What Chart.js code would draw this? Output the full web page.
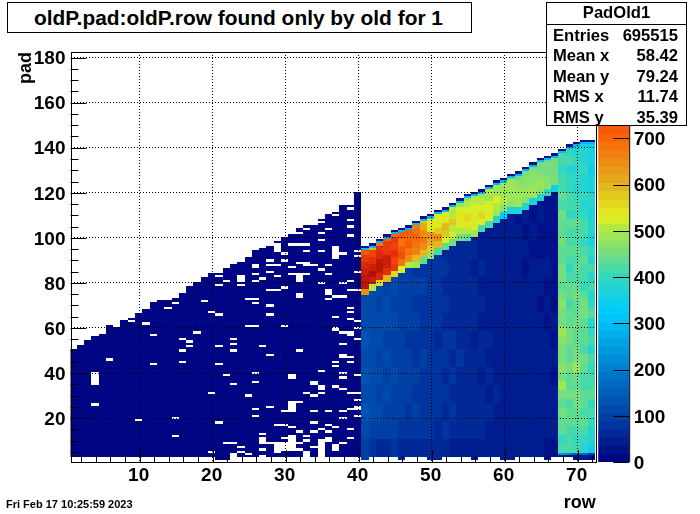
<!DOCTYPE html>
<html>
<head>
<meta charset="utf-8">
<title>PadOld1</title>
<script src="https://cdn.jsdelivr.net/npm/chart.js@4"></script>
<style>
  html, body { margin: 0; padding: 0; background: #fff; }
  #wrap { position: relative; width: 700px; height: 514px; overflow: hidden; font-family: "Liberation Sans", Arial, sans-serif; font-weight: bold; color: #000; }
  canvas { position: absolute; left: 0; top: 0; }
  .box { position: absolute; background: #fff; border: 1px solid #000; box-sizing: border-box; }
  #title { left: 7px; top: 2px; width: 465px; height: 31px; font-size: 20.9px; line-height: 30px; text-align: center; padding-right: 2px; }
  #stats { left: 546px; top: 2px; width: 141px; height: 124px; font-size: 16.6px; }
  #stats .head { text-align: center; height: 21px; line-height: 20px; border-bottom: 1px solid #000; }
  #stats .line { display: flex; justify-content: space-between; padding: 0 8px 0 6px; height: 20.4px; line-height: 21px; }
  #date { position: absolute; left: 6px; top: 498px; font-size: 11px; }
</style>
</head>
<body>
<div id="wrap">
  <canvas id="c" width="700" height="514"></canvas>
  <div class="box" id="title">oldP.pad:oldP.row found only by old for 1</div>
  <div class="box" id="stats">
    <div class="head">PadOld1</div>
    <div class="line"><span>Entries</span><span>695515</span></div>
    <div class="line"><span>Mean x</span><span>58.42</span></div>
    <div class="line"><span>Mean y</span><span>79.24</span></div>
    <div class="line"><span>RMS x</span><span>11.74</span></div>
    <div class="line"><span>RMS y</span><span>35.39</span></div>
  </div>
  <div id="date">Fri Feb 17 10:25:59 2023</div>
</div>
<script>
// top pad of each row, rows 1..72
const topPad = [50,52,54,56,57,61,60,63,64,66,68,71,72,72,74,75,78,80,82,84,84,86,88,89,91,94,95,96,98,100,102,104,105,105,108,110,111,114,114,120,
  96,97,99,101,103,104,105,107,109,110,112,113,115,117,119,120,121,123,125,126,128,129,131,133,135,136,137,139,141,142,143,143];

// rows that also fill pad 2 (pads below 3 are empty otherwise)
const lowRows = [21,22,41,46,50,51,56,60,61,66,70,71,72];

// rows 1..40, nearly empty navy level
const leftLevel = [12,14,12,10,12,10,8,10,8,8,6,8,6,8,6,6,8,6,8,6,8,6,6,6,4,6,4,6,4,4,4,6,4,4,4,4,4,4,4,6];

// empty cells in rows 1..40: row, first pad, last pad
const holes = [
  [39,113,113],[39,108,108],[39,105,105],[35,107,107],[36,104,104],[37,110,110],[33,104,104],[35,102,102],[39,101,101],
  [31,102,102],[32,102,102],[35,99,99],[31,97,97],[32,97,97],[33,97,97],[29,94,97],[37,91,96],[30,93,93],[33,94,94],[35,94,94],
  [38,93,93],[40,94,94],[40,92,92],[28,90,90],[30,90,90],[32,89,89],[33,89,89],[26,87,88],[28,88,88],[29,88,88],[33,88,88],[34,88,88],
  [31,87,87],[36,88,88],[35,86,86],[28,85,85],[31,84,84],[32,84,84],[33,84,84],[26,84,84],[36,84,84],[40,85,85],[21,83,83],[24,81,83],
  [27,82,82],[29,83,83],[32,81,83],[22,81,81],[26,81,81],[35,80,80],[39,81,81],[38,80,80],[21,79,79],[24,79,79],[30,78,78],[28,77,77],
  [29,77,77],[36,75,77],[39,77,77],[40,77,77],[32,74,75],[36,73,73],[37,74,74],[38,74,74],[25,73,73],[26,73,73],[19,72,72],[15,74,74],
  [15,71,71],[26,71,71],[14,69,69],[28,70,70],[39,69,69],[39,67,67],[20,67,67],[21,66,66],[28,66,66],[37,65,65],[39,64,64],[9,63,63],
  [11,62,62],[40,63,63],[25,61,61],[26,61,61],[30,61,61],[40,60,60],[37,59,60],[38,58,58],[39,57,58],[18,58,58],[12,57,57],[16,55,55],
  [17,54,54],[17,52,52],[21,52,52],[23,55,55],[23,53,53],[23,50,50],[27,52,52],[38,53,53],[16,50,50],[32,50,50],[40,55,55],[28,48,48],
  [38,47,48],[39,47,47],[6,46,46],[37,45,45],[39,45,45],[16,45,45],[12,44,44],[21,44,44],[37,43,43],[35,41,41],[26,40,40],[4,35,40],
  [38,40,40],[38,38,38],[22,39,39],[40,39,39],[31,38,39],[26,36,36],[23,35,35],[34,35,36],[35,33,34],[37,34,34],[38,33,33],[33,31,31],
  [35,31,31],[34,30,30],[39,31,31],[40,31,31],[20,31,31],[25,30,30],[40,28,28],[31,23,27],[32,27,27],[4,26,26],[28,25,25],[26,24,24],
  [30,23,23],[34,23,23],[36,23,23],[38,23,23],[39,24,24],[40,24,25],[26,21,21],[10,19,19],[15,20,20],[38,20,20],[40,21,21],[21,18,18],
  [34,18,18],[36,17,17],[29,17,17],[30,17,17],[37,16,16],[31,16,16],[35,15,15],[39,15,15],[32,14,14],[34,14,14],[36,14,14],[27,13,13],
  [33,12,12],[15,12,12],[27,9,11],[28,9,9],[30,11,11],[31,6,12],[36,10,11],[39,11,11],[29,5,9],[30,6,9],[23,9,9],[22,9,9],[32,9,9],
  [33,10,10],[35,3,10],[38,9,9],[37,6,8],[24,7,7],[24,5,5],[27,6,6],[32,6,6],[34,7,7],[33,2,5],[20,5,5],[25,4,4],[23,3,4],[27,3,3]
];

// rows 41..67: first pad of the hot ridge
const ridgeStart = [75,77,79,81,83,85,87,87,89,91,93,95,97,99,99,101,103,105,107,109,111,111,113,115,117,119,121];

// rows 41..67: counts below the ridge, one value per 8 pads starting at pad 3
const blueBands = [
  [90,118,126,120,130,122,128,120,112,105],
  [75,105,112,118,108,122,114,118,108,110],
  [70,98,108,100,112,104,120,110,104,110],
  [68,92,96,108,100,112,100,108,112,104,112],
  [72,95,104,96,110,102,98,112,104,110,105],
  [62,84,94,100,92,96,104,92,100,106,102],
  [66,88,82,96,90,98,86,96,92,98,90,92],
  [58,80,90,84,92,82,88,94,84,92,88,100],
  [60,76,82,88,80,90,84,78,86,90,82,92],
  [64,80,76,84,74,82,88,76,80,86,78,84,80],
  [54,70,80,74,82,76,70,78,74,80,72,76,72],
  [56,74,68,78,70,76,72,66,76,70,76,68,64,60],
  [52,68,74,66,76,64,72,68,64,70,66,62,66,60],
  [50,66,62,70,64,74,60,66,62,68,60,64,58,60],
  [48,60,66,62,58,66,62,56,64,58,62,54,58,54,54],
  [44,56,60,54,64,56,52,58,54,56,52,54,48,52,48],
  [46,58,54,60,52,58,56,50,56,52,54,48,50,46,48],
  [42,52,56,50,56,48,54,48,52,46,50,44,46,42,44,46],
  [40,50,48,54,46,52,44,50,44,48,42,46,42,42,40,42],
  [42,48,52,46,50,44,48,42,46,40,44,42,40,38,40,36],
  [36,44,48,42,46,40,44,40,42,38,42,36,40,36,38,36],
  [38,46,42,48,40,44,38,42,36,40,38,36,40,34,36,38],
  [36,42,46,40,44,38,42,36,40,36,34,38,34,36,32,34,36],
  [40,48,52,44,48,40,44,38,42,36,40,34,36,34,36,32,34],
  [36,46,42,48,40,42,36,40,34,38,36,34,32,36,32,34,30],
  [34,42,44,38,42,36,38,34,36,32,36,32,34,30,32,30,32,30],
  [32,38,36,42,34,38,32,36,32,34,30,32,30,28,30,28,30,28]
];

// rows 41..67: ridge counts, one value per 3 pads going up from ridgeStart
const ridgeBands = [
  [650,840,850,830,800,770,720],
  [500,830,860,820,790,760,600],
  [560,810,850,840,800,790,690],
  [600,790,830,830,780,770,710],
  [560,780,750,790,760,770,700],
  [520,690,740,710,690,710,680],
  [510,640,690,710,700,720,640],
  [480,600,660,680,700,680,660],
  [430,600,640,680,650,620,570],
  [470,570,620,640,540,540,500],
  [410,590,640,580,540,520,490],
  [430,530,570,590,540,520,480],
  [460,530,510,570,510,510,490],
  [450,510,530,540,520,490,470],
  [430,510,540,560,520,500,470],
  [490,520,540,530,530,510,470],
  [420,530,550,530,510,490,470],
  [420,520,530,520,490,500,470],
  [380,480,510,520,490,490,470],
  [330,470,510,490,480,480,460],
  [360,470,490,480,480,460,450],
  [370,480,480,480,470,460,450],
  [390,470,490,470,470,460,430],
  [370,480,480,470,470,460,430],
  [390,470,480,470,460,460,430],
  [400,470,470,450,460,440],
  [340,450,460,460,460,430]
];

// rows 68..72: counts, one value per 4 pads starting at pad 5
const edgeBands = [
  [420,400,430,440,450,440,460,480,450,470,460,450,470,480,460,450,470,450,440,460,450,430,440,460,430,440,450,420,430,420,420,400,420,410,350,340],
  [410,420,410,440,430,420,450,430,440,450,430,440,450,460,440,430,420,440,430,410,400,420,440,410,420,430,400,410,420,400,400,390,410,400,350,330],
  [410,400,420,430,440,450,460,440,450,490,450,460,440,430,450,440,440,460,430,420,440,410,430,420,410,430,400,410,400,390,400,390,400,390,350,320],
  [380,400,410,430,420,440,430,420,410,430,450,420,440,430,440,450,450,430,400,420,410,430,420,400,410,420,400,390,400,380,380,400,390,380,360,330],
  [350,380,390,400,420,400,430,410,420,400,410,390,420,400,390,430,400,380,420,390,410,380,400,370,380,390,370,380,390,360,370,350,370,360,340,320]
];

// rows 68..72: pads 3 and 4
const edgeFoot = [[30,240],[30,200],[30,150],[40,170],[30,100]];

// the two cells at the top of every row from 41 on: top pad, the one below
const rimCounts = [30,300];

const xTickValues = [10,20,30,40,50,60,70];
const yTickValues = [20,40,60,80,100,120,140,160,180];
const zTickValues = [0,100,200,300,400,500,600,700];
const xMinorStep = 2;
const yMinorStep = 5;
const zMax = 887;

// colour levels of the palette
const paletteStops = [
  [0,0,0,128],[100,0,65,165],[200,0,125,205],[300,0,190,245],[330,0,205,250],[400,50,215,190],[450,115,222,130],
  [500,170,232,70],[530,225,240,30],[600,225,180,30],[700,250,100,10],[800,225,40,10],[887,150,10,0]
];
const paletteLevels = 50;

function paletteColor(v) {
  const step = zMax / paletteLevels;
  const q = Math.min(zMax, (Math.floor(v / step) + 0.5) * step);
  for (let i = 1; i < paletteStops.length; i++) {
    const a = paletteStops[i - 1], b = paletteStops[i];
    if (q <= b[0]) {
      const t = (q - a[0]) / (b[0] - a[0]);
      return 'rgb(' + [1, 2, 3].map(k => Math.round(a[k] + (b[k] - a[k]) * t)).join(',') + ')';
    }
  }
  return 'rgb(150,10,0)';
}

function buildCells() {
  const cells = [];
  const isHole = (r, p) => holes.some(h => h[0] === r && p >= h[1] && p <= h[2]);
  for (let r = 1; r <= 72; r++) {
    const top = topPad[r - 1];
    const first = lowRows.includes(r) ? 2 : 3;
    for (let p = first; p <= top; p++) {
      let v;
      if (r <= 40) {
        if (isHole(r, p)) continue;
        v = leftLevel[r - 1];
      } else if (p === top) {
        v = rimCounts[0];
      } else if (p === top - 1) {
        v = rimCounts[1];
      } else if (r <= 67) {
        const start = ridgeStart[r - 41];
        if (p < start) {
          const b = blueBands[r - 41];
          v = b[Math.min(b.length - 1, Math.floor(Math.max(p - 3, 0) / 8))];
        } else {
          const b = ridgeBands[r - 41];
          v = b[Math.min(b.length - 1, Math.floor((p - start) / 3))];
        }
      } else if (p < 5) {
        v = edgeFoot[r - 68][Math.max(p - 3, 0)];
      } else {
        const b = edgeBands[r - 68];
        v = b[Math.min(b.length - 1, Math.floor((p - 5) / 4))];
      }
      cells.push({ x: r, y: p, v: v });
    }
  }
  return cells;
}

const heatmapPlugin = {
  id: 'heatmap',
  beforeDatasetsDraw(chart) {
    const { ctx, chartArea: area, scales: { x, y } } = chart;
    ctx.save();
    ctx.beginPath();
    ctx.rect(area.left, area.top, area.width, area.height);
    ctx.clip();
    // the histogram bins sit slightly left of the tick positions
    chart.data.datasets[0].data.forEach(c => {
      const x0 = Math.round(x.getPixelForValue(c.x - 0.63));
      const x1 = Math.round(x.getPixelForValue(c.x + 0.37));
      const y0 = Math.round(y.getPixelForValue(c.y + 0.5));
      const y1 = Math.round(y.getPixelForValue(c.y - 0.5));
      ctx.fillStyle = paletteColor(c.v);
      ctx.fillRect(x0, y0, x1 - x0, y1 - y0);
    });
    ctx.restore();
  },
  afterDraw(chart) {
    const { ctx, chartArea: area, scales: { x, y, z } } = chart;
    ctx.save();
    // colour bar
    const barLeft = area.right + 2.5, barRight = area.right + 33.5;
    const step = zMax / paletteLevels;
    for (let i = 0; i < paletteLevels; i++) {
      const y0 = Math.round(z.getPixelForValue((i + 1) * step));
      const y1 = Math.round(z.getPixelForValue(i * step));
      ctx.fillStyle = paletteColor((i + 0.5) * step);
      ctx.fillRect(barLeft, y0, barRight - barLeft, y1 - y0);
    }
    ctx.strokeStyle = '#000';
    ctx.lineWidth = 1;
    ctx.beginPath();
    ctx.moveTo(barRight + 0.5, area.top);
    ctx.lineTo(barRight + 0.5, area.bottom);
    zTickValues.forEach(v => {
      const p = Math.round(z.getPixelForValue(v)) + 0.5;
      ctx.moveTo(barRight - 16, p);
      ctx.lineTo(barRight, p);
    });
    // inward ticks on the frame
    for (let v = xMinorStep; v <= 72; v += xMinorStep) {
      const p = Math.round(x.getPixelForValue(v)) + 0.5;
      ctx.moveTo(p, area.bottom);
      ctx.lineTo(p, area.bottom - (xTickValues.includes(v) ? 12 : 6));
    }
    for (let v = yMinorStep; v <= 180; v += yMinorStep) {
      const p = Math.round(y.getPixelForValue(v)) + 0.5;
      ctx.moveTo(area.left, p);
      ctx.lineTo(area.left + (yTickValues.includes(v) ? 16 : 8), p);
    }
    ctx.stroke();
    ctx.strokeRect(Math.round(area.left) + 0.5, Math.round(area.top) + 0.5, Math.round(area.width), Math.round(area.height));
    ctx.restore();
  }
};

const labelFont = { family: '"Liberation Sans"', size: 19, weight: 'bold' };
const titleFont = { family: '"Liberation Sans"', size: 18, weight: 'bold' };

new Chart(document.getElementById('c'), {
  type: 'scatter',
  data: {
    datasets: [{
      label: 'PadOld1',
      data: buildCells(),
      pointRadius: 0,
      pointHoverRadius: 0
    }]
  },
  options: {
    responsive: false,
    animation: false,
    devicePixelRatio: 1,
    events: [],
    layout: { padding: { top: 52, left: 0, right: 0, bottom: 0 } },
    plugins: { legend: { display: false }, tooltip: { enabled: false } },
    scales: {
      x: {
        type: 'linear',
        min: 0.53,
        max: 72.47,
        afterBuildTicks: s => { s.ticks = xTickValues.map(v => ({ value: v })); },
        afterFit: s => { s.height = 52; },
        ticks: { color: '#000', font: labelFont, padding: 2, labelOffset: -1, maxRotation: 0, callback: v => String(v) },
        border: { display: false, dash: [1, 2] },
        grid: { z: 1, color: '#000', lineWidth: 1, drawTicks: false },
        title: { display: true, text: 'row', align: 'end', color: '#000', font: titleFont, padding: { top: 0, bottom: 0 } }
      },
      y: {
        type: 'linear',
        min: 0.5,
        max: 182.5,
        afterBuildTicks: s => { s.ticks = yTickValues.map(v => ({ value: v })); },
        afterFit: s => { s.width = 70.5; },
        ticks: { color: '#000', font: labelFont, padding: 5, labelOffset: 1.5, callback: v => String(v) },
        border: { display: false, dash: [1, 2] },
        grid: { z: 1, color: '#000', lineWidth: 1, drawTicks: false },
        title: { display: true, text: 'pad', align: 'end', color: '#000', font: titleFont, padding: { top: 15, bottom: 0 } }
      },
      z: {
        type: 'linear',
        axis: 'y',
        position: 'right',
        min: 0,
        max: zMax,
        afterBuildTicks: s => { s.ticks = zTickValues.map(v => ({ value: v })); },
        afterFit: s => { s.width = 104.3; },
        ticks: { color: '#000', font: labelFont, padding: 38, labelOffset: 1.5, callback: v => String(v) },
        border: { display: false },
        grid: { drawOnChartArea: false, drawTicks: false }
      }
    }
  },
  plugins: [heatmapPlugin]
});
</script>
</body>
</html>
